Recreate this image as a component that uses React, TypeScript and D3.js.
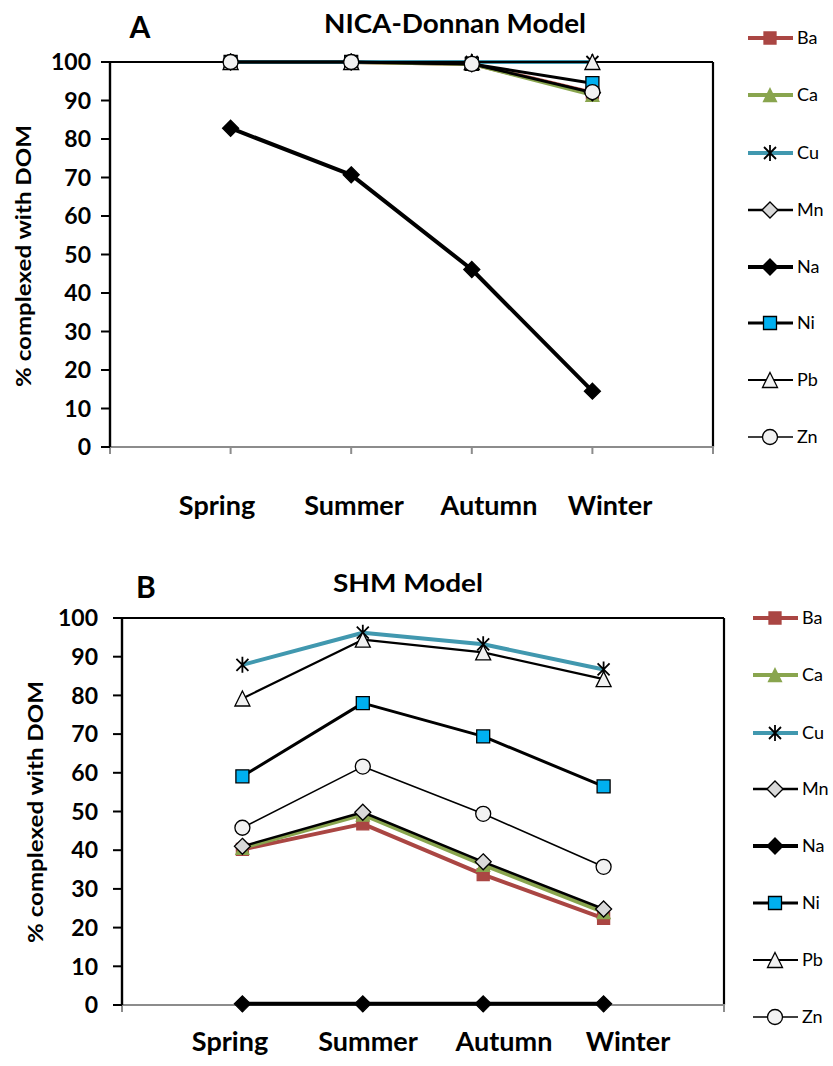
import React from 'react';
import * as d3 from 'd3';

// ---------- DATA ----------
const seasons = ['Spring', 'Summer', 'Autumn', 'Winter'];
const elements = ['Ba', 'Ca', 'Cu', 'Mn', 'Na', 'Ni', 'Pb', 'Zn'];
const yTicks = [0, 10, 20, 30, 40, 50, 60, 70, 80, 90, 100];

// Panel A: NICA-Donnan Model
const nicaBa = [100, 100, 99.5, 92];
const nicaCa = [100, 100, 99.5, 91.5];
const nicaCu = [100, 100, 100, 100];
const nicaMn = [100, 100, 99.5, 92];
const nicaNa = [82.8, 70.7, 46.1, 14.5];
const nicaNi = [100, 100, 99.5, 94.5];
const nicaPb = [100, 100, 100, 100];
const nicaZn = [100, 100, 99.5, 92.2];

// Panel B: SHM Model
const shmBa = [40.2, 46.8, 33.7, 22.4];
const shmCa = [40.6, 49.2, 36.2, 24];
const shmCu = [87.9, 96.2, 93.2, 86.7];
const shmMn = [41, 49.8, 37, 24.8];
const shmNa = [0.3, 0.3, 0.3, 0.3];
const shmNi = [59.1, 78, 69.4, 56.5];
const shmPb = [79.2, 94.4, 91.1, 84.2];
const shmZn = [45.8, 61.6, 49.4, 35.7];

const nicaSeries = [nicaBa, nicaCa, nicaCu, nicaMn, nicaNa, nicaNi, nicaPb, nicaZn];
const shmSeries = [shmBa, shmCa, shmCu, shmMn, shmNa, shmNi, shmPb, shmZn];

// ---------- STYLES ----------
type MarkerType = 'square' | 'triangle' | 'star' | 'diamond' | 'circle';
interface Style { stroke: string; width: number; marker: MarkerType; size: number; fill: string; mstroke: string; }
const styles: Record<string, Style> = {
  Ba: { stroke: '#AA4643', width: 4, marker: 'square', size: 12, fill: '#AA4643', mstroke: '#AA4643' },
  Ca: { stroke: '#89A54E', width: 4, marker: 'triangle', size: 13, fill: '#89A54E', mstroke: '#89A54E' },
  Cu: { stroke: '#4198AF', width: 4, marker: 'star', size: 16, fill: 'none', mstroke: '#000' },
  Mn: { stroke: '#000', width: 2.5, marker: 'diamond', size: 16, fill: '#D9D9D9', mstroke: '#000' },
  Na: { stroke: '#000', width: 4, marker: 'diamond', size: 16, fill: '#000', mstroke: '#000' },
  Ni: { stroke: '#000', width: 3, marker: 'square', size: 13, fill: '#00B0F0', mstroke: '#000' },
  Pb: { stroke: '#000', width: 2.2, marker: 'triangle', size: 15, fill: '#F2F2F2', mstroke: '#000' },
  Zn: { stroke: '#000', width: 1.6, marker: 'circle', size: 15, fill: '#F2F2F2', mstroke: '#000' },
};

const FONT = "Lato, 'Open Sans', sans-serif";

function markerPath(type: MarkerType, s: number): string {
  const h = s / 2;
  const p = d3.path();
  switch (type) {
    case 'square':
      p.rect(-h, -h, s, s);
      break;
    case 'triangle':
      p.moveTo(0, -h); p.lineTo(h, h); p.lineTo(-h, h); p.closePath();
      break;
    case 'diamond':
      p.moveTo(0, -h); p.lineTo(h, 0); p.lineTo(0, h); p.lineTo(-h, 0); p.closePath();
      break;
    case 'circle':
      p.arc(0, 0, h, 0, Math.PI * 2); p.closePath();
      break;
    case 'star': {
      const d = h * 0.75;
      p.moveTo(-d, -d); p.lineTo(d, d);
      p.moveTo(d, -d); p.lineTo(-d, d);
      p.moveTo(0, -h); p.lineTo(0, h);
      break;
    }
  }
  return p.toString();
}

function Marker({ type, x, y, st }: { type: MarkerType; x: number; y: number; st: Style }) {
  return (
    <path
      d={markerPath(type, st.size)}
      transform={`translate(${x},${y})`}
      fill={type === 'star' ? 'none' : st.fill}
      stroke={st.mstroke}
      strokeWidth={type === 'star' ? 1.8 : 1.3}
    />
  );
}

interface PanelCfg {
  letter: string; letterX: number; letterY: number;
  title: string; titleX: number; titleY: number; titleSize: number; titleLen: number;
  left: number; right: number; top: number; bottom: number;
  tickLabelGap: number;
  yTitleX: number; yTitleY: number;
  catX: number[]; catY: number;
  legX: number; legYs: number[];
  series: number[][];
}

const panels: PanelCfg[] = [
  {
    letter: 'A', letterX: 140, letterY: 38,
    title: 'NICA-Donnan Model', titleX: 455, titleY: 33, titleSize: 27, titleLen: 262,
    left: 110, right: 713, top: 62, bottom: 447,
    tickLabelGap: 19,
    yTitleX: 23, yTitleY: 256,
    catX: [217, 354, 489, 610], catY: 515,
    legX: 748, legYs: [38, 95, 153, 210, 267, 323, 380, 437],
    series: nicaSeries,
  },
  {
    letter: 'B', letterX: 146, letterY: 598,
    title: 'SHM Model', titleX: 408, titleY: 592, titleSize: 25, titleLen: 150,
    left: 122, right: 724, top: 618, bottom: 1005,
    tickLabelGap: 24,
    yTitleX: 35, yTitleY: 812,
    catX: [230, 368, 504, 628], catY: 1051,
    legX: 753, legYs: [618, 675, 733, 789, 846, 903, 960, 1017],
    series: shmSeries,
  },
];

function Panel({ cfg }: { cfg: PanelCfg }) {
  const x = d3.scaleLinear().domain([0, 5]).range([cfg.left, cfg.right]);
  const y = d3.scaleLinear().domain([0, 100]).range([cfg.bottom, cfg.top]);
  const line = d3.line<number>().x((_, i) => x(i + 1)).y((d) => y(d));
  const xTicks = d3.range(0, 6);
  return (
    <g>
      <text x={cfg.letterX} y={cfg.letterY} fontFamily={FONT} fontWeight={700} fontSize={30} textAnchor="middle">{cfg.letter}</text>
      <text x={cfg.titleX} y={cfg.titleY} fontFamily={FONT} fontWeight={700} fontSize={cfg.titleSize} textAnchor="middle"
        textLength={cfg.titleLen} lengthAdjust="spacingAndGlyphs">{cfg.title}</text>

      {/* plot frame */}
      <line x1={cfg.left} x2={cfg.right} y1={cfg.top} y2={cfg.top} stroke="#000" strokeWidth={2.2} />
      <line x1={cfg.right} x2={cfg.right} y1={cfg.top} y2={cfg.bottom} stroke="#000" strokeWidth={2.2} />
      {/* x axis */}
      <line x1={cfg.left} x2={cfg.right + 1} y1={cfg.bottom} y2={cfg.bottom} stroke="#8C8C8C" strokeWidth={2.2} />
      {xTicks.map((t) => (
        <line key={t} x1={x(t)} x2={x(t)} y1={cfg.bottom} y2={cfg.bottom + 7} stroke="#8C8C8C" strokeWidth={2} />
      ))}
      {/* y axis */}
      <line x1={cfg.left} x2={cfg.left} y1={cfg.top - 1} y2={cfg.bottom} stroke="#000" strokeWidth={2.4} />
      {yTicks.map((t) => (
        <g key={t}>
          <line x1={cfg.left - 9} x2={cfg.left} y1={y(t)} y2={y(t)} stroke="#000" strokeWidth={2} />
          <text x={cfg.left - cfg.tickLabelGap} y={y(t)} dy="0.36em" textAnchor="end" fontFamily={FONT} fontWeight={700} fontSize={23}>{t}</text>
        </g>
      ))}
      <text transform={`translate(${cfg.yTitleX},${cfg.yTitleY}) rotate(-90)`} textAnchor="middle" dy="0.36em"
        fontFamily={FONT} fontWeight={700} fontSize={21} textLength={262} lengthAdjust="spacingAndGlyphs">% complexed with DOM</text>

      {seasons.map((s, i) => (
        <text key={s} x={cfg.catX[i]} y={cfg.catY} textAnchor="middle" fontFamily={FONT} fontWeight={700} fontSize={27}>{s}</text>
      ))}

      {/* series */}
      {elements.map((el, k) => {
        const st = styles[el];
        const vals = cfg.series[k];
        return (
          <g key={el}>
            <path d={line(vals) || ''} fill="none" stroke={st.stroke} strokeWidth={st.width} strokeLinejoin="round" />
            {vals.map((v, i) => (
              <Marker key={i} type={st.marker} x={x(i + 1)} y={y(v)} st={st} />
            ))}
          </g>
        );
      })}

      {/* legend */}
      {elements.map((el, k) => {
        const st = styles[el];
        const ly = cfg.legYs[k];
        const lx = cfg.legX;
        return (
          <g key={el}>
            <line x1={lx} x2={lx + 45} y1={ly} y2={ly} stroke={st.stroke} strokeWidth={st.width} />
            <Marker type={st.marker} x={lx + 22} y={ly} st={st} />
            <text x={lx + 49} y={ly} dy="0.36em" fontFamily={FONT} fontSize={18}>{el}</text>
          </g>
        );
      })}
    </g>
  );
}

export default function App() {
  return (
    <svg width={833} height={1066} style={{ position: 'absolute', left: 0, top: 0, background: '#fff' }}>
      <rect width={833} height={1066} fill="#fff" />
      {panels.map((p) => <Panel key={p.letter} cfg={p} />)}
    </svg>
  );
}
